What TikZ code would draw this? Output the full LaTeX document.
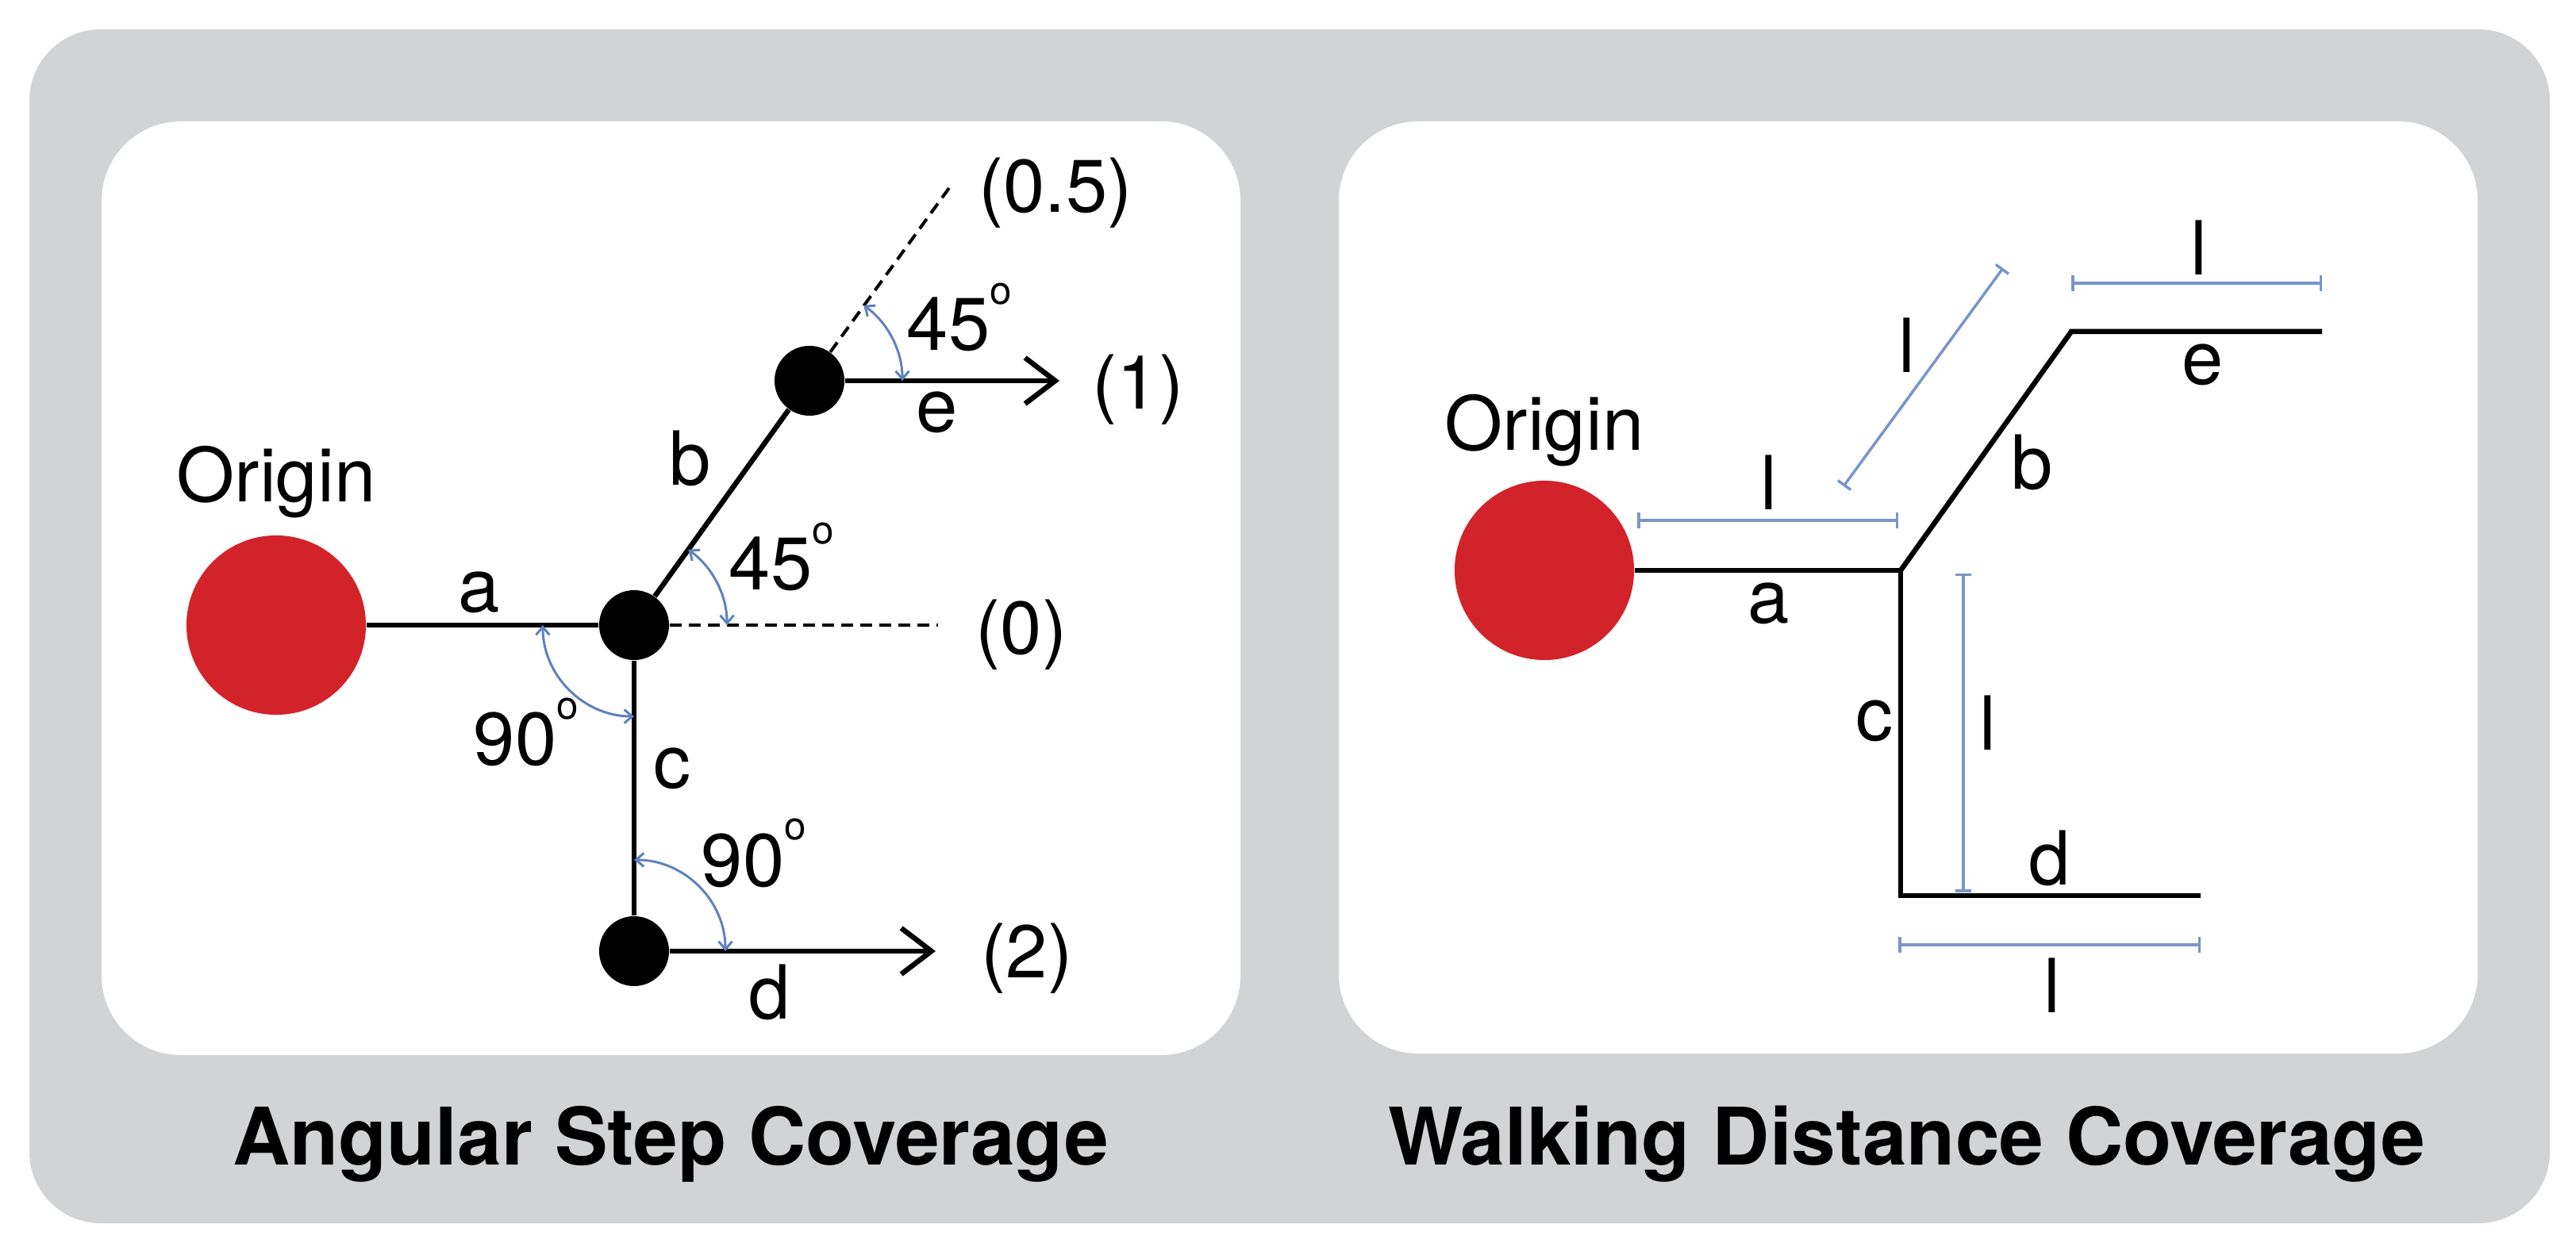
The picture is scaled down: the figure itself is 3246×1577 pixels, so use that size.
\documentclass[tikz,border=0pt]{standalone}
\usepackage{fontspec}
\setmainfont{TeX Gyre Heros}
\usetikzlibrary{arrows.meta,calc}
\definecolor{bggrey}{RGB}{209,211,212}
\definecolor{orired}{RGB}{210,35,43}
\definecolor{angblue}{RGB}{95,130,190}
\definecolor{dimblue}{RGB}{120,150,200}
\newcommand{\dego}{\raisebox{0.62em}{\fontsize{14}{14}\selectfont o}}
\begin{document}
\begin{tikzpicture}[x=0.01cm,y=-0.01cm,
  origin/.style={circle,fill=orired,draw=none,minimum size=2.26cm,inner sep=0pt},
  dot/.style={circle,fill=black,draw=none,minimum size=0.88cm,inner sep=0pt},
  seg/.style={line width=0.065cm,black},
  barb/.style={-{Straight Barb[length=0.38cm,width=0.58cm]}},
  dashln/.style={line width=0.04cm,black,dash pattern=on 0.15cm off 0.09cm},
  ang/.style={line width=0.03cm,angblue,{Straight Barb[length=0.1cm,width=0.17cm]}-{Straight Barb[length=0.1cm,width=0.17cm]}},
  dim/.style={line width=0.035cm,dimblue,{Bar[width=0.2cm]}-{Bar[width=0.2cm]}},
  lbl/.style={anchor=base,inner sep=0pt,font=\fontsize{26.75}{30}\selectfont},
  ttl/.style={anchor=base,inner sep=0pt,font=\bfseries\fontsize{28.45}{34}\selectfont}]
\useasboundingbox (0,0) rectangle (3246,1577);
\fill[white] (0,0) rectangle (3246,1577);
\fill[bggrey,rounded corners=0.9cm] (37,37) rectangle (3213,1542);
\fill[white,rounded corners=1cm] (128,153) rectangle (1563,1330);
\fill[white,rounded corners=1cm] (1687,153) rectangle (3122,1328);

% ---------------- left panel ----------------
\node[origin] (O1) at (348,788) {};
\node[dot] (N1) at (799,788) {};
\node[dot] (N2) at (1020,480) {};
\node[dot] (N3) at (799,1199) {};
\coordinate (P0) at (1182,788);
\coordinate (P05) at (1196,237);
\coordinate (T1) at (1335,480);
\coordinate (T2) at (1179,1199);
\draw[seg] (O1) -- (N1);
\draw[seg] (N1) -- (N2);
\draw[seg] (N1) -- (N3);
\draw[seg,barb] (N2) -- (T1);
\draw[seg,barb] (N3) -- (T2);
\draw[dashln] (N1) -- (P0);
\draw[dashln] (N2) -- (P05);

\draw[ang] ($(N1)+(0:1.17cm)$) arc[start angle=0,end angle=54.34,radius=1.17cm];
\draw[ang] ($(N2)+(0:1.17cm)$) arc[start angle=0,end angle=54.34,radius=1.17cm];
\draw[ang] ($(N1)+(180:1.15cm)$) arc[start angle=180,end angle=270,radius=1.15cm];
\draw[ang] ($(N3)+(90:1.15cm)$) arc[start angle=90,end angle=0,radius=1.15cm];

\node[lbl] (tOrigin1) at (348,633) {Origin};
\node[lbl] (ta1) at (604,772) {a};
\node[lbl] (tb1) at (870,612) {b};
\node[lbl] (tc1) at (847,994) {c};
\node[lbl] (td1) at (970,1284) {d};
\node[lbl] (te1) at (1181,545) {e};
\node[lbl] (t05) at (1330,268) {(0.5)};
\node[lbl] (t1) at (1434,516) {(1)};
\node[lbl] (t0) at (1287,825) {(0)};
\node[lbl] (t2) at (1294,1232) {(2)};
\node[lbl,anchor=base west] (g45u) at (1142,442) {45\dego};
\node[lbl,anchor=base west] (g45l) at (918,744) {45\dego};
\node[lbl,anchor=base west] (g90l) at (596,965) {90\dego};
\node[lbl,anchor=base west] (g90d) at (883,1117) {90\dego};

% ---------------- right panel ----------------
\node[origin] (O2) at (1946,719) {};
\coordinate (J) at (2395,719);
\coordinate (K) at (2610,418);
\coordinate (Kend) at (2926,418);
\coordinate (Cb) at (2395,1129);
\coordinate (Dend) at (2773,1129);
\draw[seg,line join=miter] (O2) -- (J) -- (Cb) -- (Dend);
\draw[seg,line join=miter] (J) -- (K) -- (Kend);

\coordinate (da1) at (2063,656);  \coordinate (da2) at (2392,656);
\coordinate (db1) at (2323,613);  \coordinate (db2) at (2524,338);
\coordinate (de1) at (2610,357);  \coordinate (de2) at (2926,357);
\coordinate (dc1) at (2474,723);  \coordinate (dc2) at (2474,1125);
\coordinate (dd1) at (2392,1191); \coordinate (dd2) at (2773,1191);
\draw[dim] (da1) -- (da2);
\draw[dim] (db1) -- (db2);
\draw[dim] (de1) -- (de2);
\draw[dim] (dc1) -- (dc2);
\draw[dim] (dd1) -- (dd2);

\node[lbl] (tOrigin2) at (1946,568) {Origin};
\node[lbl] (ta2) at (2229,786) {a};
\node[lbl] (tb2) at (2561,617) {b};
\node[lbl] (tc2) at (2362,934) {c};
\node[lbl] (td2) at (2583,1116) {d};
\node[lbl] (te2) at (2776,485) {e};
\node[lbl] (la) at (2229,643) {l};
\node[lbl] (lb) at (2403,470) {l};
\node[lbl] (le) at (2771,347) {l};
\node[lbl] (lc) at (2505,946) {l};
\node[lbl] (ld) at (2586,1276) {l};

% ---------------- titles ----------------
\node[ttl] (title1) at (845,1468) {Angular Step Coverage};
\node[ttl] (title2) at (2403,1468) {Walking Distance Coverage};
\end{tikzpicture}
\end{document}
